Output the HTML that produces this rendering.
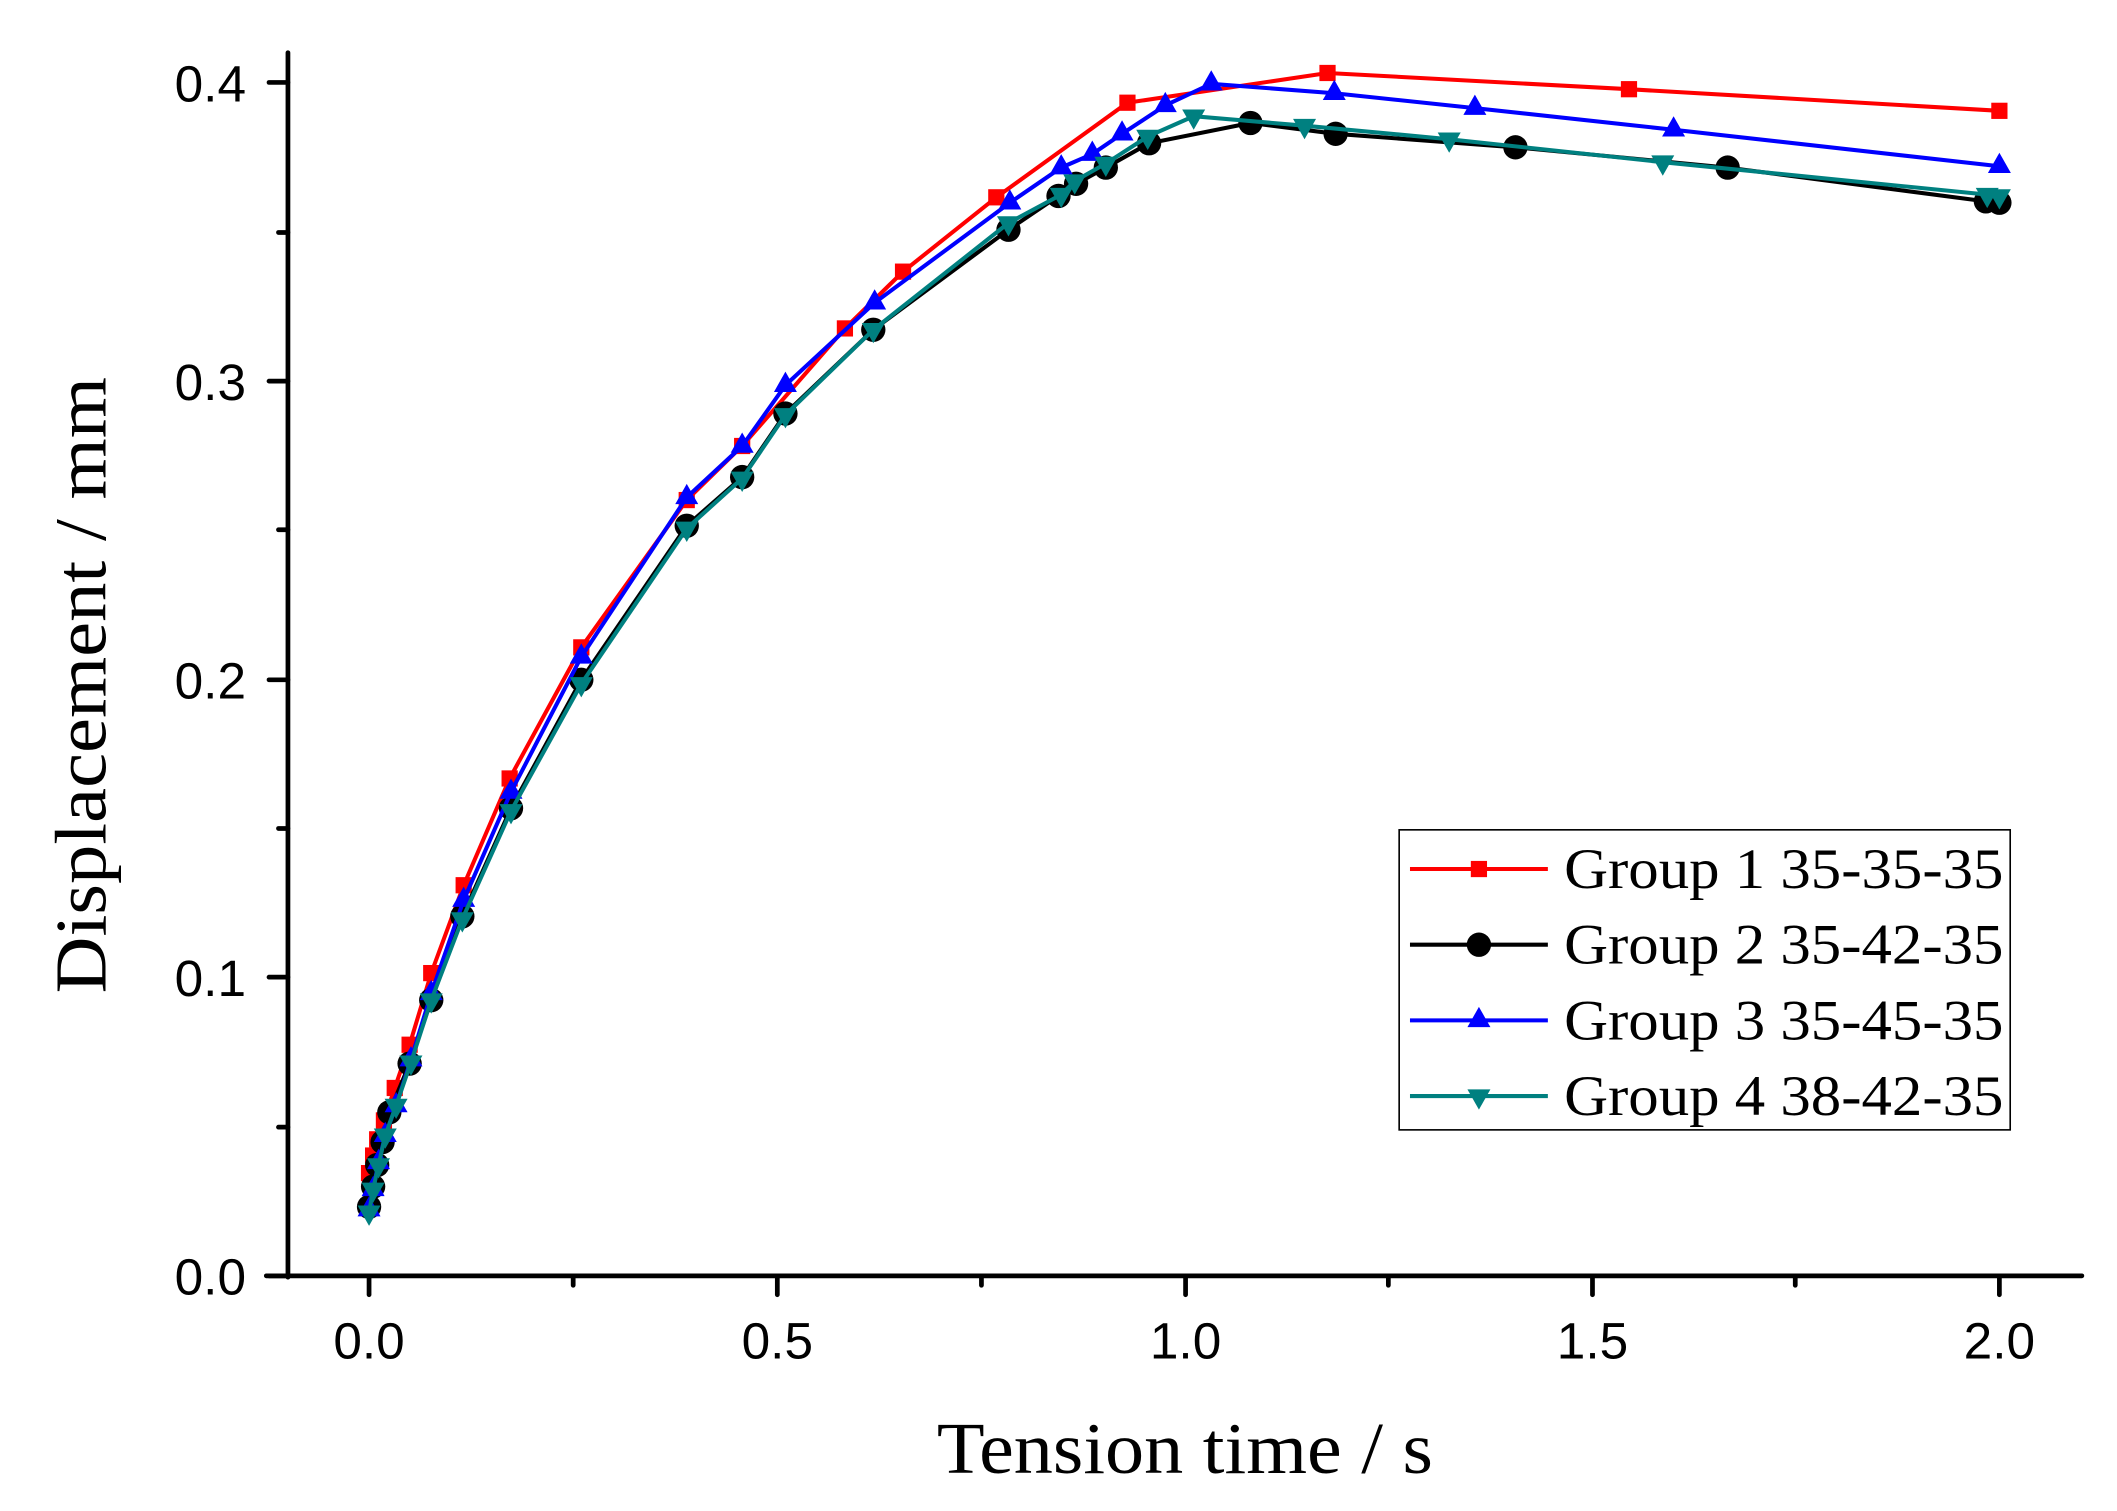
<!DOCTYPE html>
<html><head><meta charset="utf-8"><style>html,body{margin:0;padding:0;background:#fff;}svg{display:block;}</style></head>
<body>
<svg width="2117" height="1511" viewBox="0 0 1566 1118" preserveAspectRatio="none" xmlns="http://www.w3.org/2000/svg">
<defs>
<rect id="sq" x="-6" y="-6" width="12" height="12" fill="#ff0000"/>
<circle id="ci" r="9" fill="#000"/>
<polygon id="tu" points="0,-10 8.5,5 -8.5,5" fill="#0000ff"/>
<polygon id="td" points="0,10 8.5,-5 -8.5,-5" fill="#008080"/>
</defs>
<rect width="1566" height="1118" fill="#fff"/>
<g stroke="#000" stroke-width="3.5" stroke-linecap="round">
<line x1="213" y1="39" x2="213" y2="945"/>
<line x1="197" y1="944" x2="1540" y2="944"/>
<line x1="199" y1="944" x2="213" y2="944"/><line x1="199" y1="723" x2="213" y2="723"/><line x1="199" y1="503" x2="213" y2="503"/><line x1="199" y1="282" x2="213" y2="282"/><line x1="199" y1="61" x2="213" y2="61"/>
<line x1="206" y1="834" x2="213" y2="834"/><line x1="206" y1="613" x2="213" y2="613"/><line x1="206" y1="392" x2="213" y2="392"/><line x1="206" y1="172" x2="213" y2="172"/>
<line x1="273" y1="944" x2="273" y2="958"/><line x1="575" y1="944" x2="575" y2="958"/><line x1="877" y1="944" x2="877" y2="958"/><line x1="1178" y1="944" x2="1178" y2="958"/><line x1="1479" y1="944" x2="1479" y2="958"/>
<line x1="424" y1="944" x2="424" y2="951"/><line x1="726" y1="944" x2="726" y2="951"/><line x1="1027" y1="944" x2="1027" y2="951"/><line x1="1328" y1="944" x2="1328" y2="951"/>
</g>
<g font-family="Liberation Sans, Arial, sans-serif" font-size="38" fill="#000">
<g text-anchor="end">
<text x="182" y="958">0.0</text><text x="182" y="737">0.1</text><text x="182" y="517">0.2</text><text x="182" y="296">0.3</text><text x="182" y="75">0.4</text>
</g>
<g text-anchor="middle">
<text x="273" y="1005">0.0</text><text x="575" y="1005">0.5</text><text x="877" y="1005">1.0</text><text x="1178" y="1005">1.5</text><text x="1479" y="1005">2.0</text>
</g>
</g>
<g font-family="Liberation Serif, 'Times New Roman', serif" font-size="54" fill="#000">
<text x="693" y="1090" textLength="367" lengthAdjust="spacingAndGlyphs">Tension time / s</text>
<text transform="translate(78,735) rotate(-90)" x="0" y="0" textLength="456" lengthAdjust="spacingAndGlyphs">Displacement / mm</text>
</g>
<g>
<polyline fill="none" stroke="#ff0000" stroke-width="3" points="273,868 276,855 279,843 284,829 292,805 303,773 319,720 343,655 377,576 430,479 508,370 549,330 625,243 668,201 737,146 834,76 982,54 1205,66 1479,82"/>
<g><use href="#sq" x="273" y="868"/><use href="#sq" x="276" y="855"/><use href="#sq" x="279" y="843"/><use href="#sq" x="284" y="829"/><use href="#sq" x="292" y="805"/><use href="#sq" x="303" y="773"/><use href="#sq" x="319" y="720"/><use href="#sq" x="343" y="655"/><use href="#sq" x="377" y="576"/><use href="#sq" x="430" y="479"/><use href="#sq" x="508" y="370"/><use href="#sq" x="549" y="330"/><use href="#sq" x="625" y="243"/><use href="#sq" x="668" y="201"/><use href="#sq" x="737" y="146"/><use href="#sq" x="834" y="76"/><use href="#sq" x="982" y="54"/><use href="#sq" x="1205" y="66"/><use href="#sq" x="1479" y="82"/></g>
</g>
<g>
<polyline fill="none" stroke="#000" stroke-width="3" points="273,893 276,878 279,862 283,845 288,823 303,787 319,740 342,678 378,598 430,503 508,389 549,353 581,306 646,244 746,170 783,145 796,136 818,124 850,106 925,91 988,99 1121,109 1278,124 1469,149 1479,150"/>
<g><use href="#ci" x="273" y="893"/><use href="#ci" x="276" y="878"/><use href="#ci" x="279" y="862"/><use href="#ci" x="283" y="845"/><use href="#ci" x="288" y="823"/><use href="#ci" x="303" y="787"/><use href="#ci" x="319" y="740"/><use href="#ci" x="342" y="678"/><use href="#ci" x="378" y="598"/><use href="#ci" x="430" y="503"/><use href="#ci" x="508" y="389"/><use href="#ci" x="549" y="353"/><use href="#ci" x="581" y="306"/><use href="#ci" x="646" y="244"/><use href="#ci" x="746" y="170"/><use href="#ci" x="783" y="145"/><use href="#ci" x="796" y="136"/><use href="#ci" x="818" y="124"/><use href="#ci" x="850" y="106"/><use href="#ci" x="925" y="91"/><use href="#ci" x="988" y="99"/><use href="#ci" x="1121" y="109"/><use href="#ci" x="1278" y="124"/><use href="#ci" x="1469" y="149"/><use href="#ci" x="1479" y="150"/></g>
</g>
<g>
<polyline fill="none" stroke="#0000ff" stroke-width="3" points="273,895 276,880 280,860 285,840 293,818 304,784 319,735 343,666 378,586 430,486 508,368 549,330 581,285 647,224 747,150 785,124 808,114 830,99 862,78 896,62 987,69 1091,80 1238,96 1479,123"/>
<g><use href="#tu" x="273" y="895"/><use href="#tu" x="276" y="880"/><use href="#tu" x="280" y="860"/><use href="#tu" x="285" y="840"/><use href="#tu" x="293" y="818"/><use href="#tu" x="304" y="784"/><use href="#tu" x="319" y="735"/><use href="#tu" x="343" y="666"/><use href="#tu" x="378" y="586"/><use href="#tu" x="430" y="486"/><use href="#tu" x="508" y="368"/><use href="#tu" x="549" y="330"/><use href="#tu" x="581" y="285"/><use href="#tu" x="647" y="224"/><use href="#tu" x="747" y="150"/><use href="#tu" x="785" y="124"/><use href="#tu" x="808" y="114"/><use href="#tu" x="830" y="99"/><use href="#tu" x="862" y="78"/><use href="#tu" x="896" y="62"/><use href="#tu" x="987" y="69"/><use href="#tu" x="1091" y="80"/><use href="#tu" x="1238" y="96"/><use href="#tu" x="1479" y="123"/></g>
</g>
<g>
<polyline fill="none" stroke="#008080" stroke-width="3" points="273,897 276,880 280,862 285,840 293,818 304,786 319,740 342,680 378,600 430,506 508,391 549,354 581,307 646,244 746,165 785,144 795,134 818,121 849,101 883,86 965,93 1072,103 1230,120 1470,144 1479,145"/>
<g><use href="#td" x="273" y="897"/><use href="#td" x="276" y="880"/><use href="#td" x="280" y="862"/><use href="#td" x="285" y="840"/><use href="#td" x="293" y="818"/><use href="#td" x="304" y="786"/><use href="#td" x="319" y="740"/><use href="#td" x="342" y="680"/><use href="#td" x="378" y="600"/><use href="#td" x="430" y="506"/><use href="#td" x="508" y="391"/><use href="#td" x="549" y="354"/><use href="#td" x="581" y="307"/><use href="#td" x="646" y="244"/><use href="#td" x="746" y="165"/><use href="#td" x="785" y="144"/><use href="#td" x="795" y="134"/><use href="#td" x="818" y="121"/><use href="#td" x="849" y="101"/><use href="#td" x="883" y="86"/><use href="#td" x="965" y="93"/><use href="#td" x="1072" y="103"/><use href="#td" x="1230" y="120"/><use href="#td" x="1470" y="144"/><use href="#td" x="1479" y="145"/></g>
</g>
<rect x="1035" y="614" width="452" height="222" fill="#fff" stroke="#000" stroke-width="1.2"/>
<line x1="1043" y1="643" x2="1145" y2="643" stroke="#ff0000" stroke-width="3"/><use href="#sq" x="1094" y="643"/>
<line x1="1043" y1="699" x2="1145" y2="699" stroke="#000" stroke-width="3"/><use href="#ci" x="1094" y="699"/>
<line x1="1043" y1="755" x2="1145" y2="755" stroke="#0000ff" stroke-width="3"/><use href="#tu" x="1094" y="755"/>
<line x1="1043" y1="811" x2="1145" y2="811" stroke="#008080" stroke-width="3"/><use href="#td" x="1094" y="811"/>
<g font-family="Liberation Serif, 'Times New Roman', serif" font-size="42" fill="#000">
<text x="1157" y="657" textLength="325" lengthAdjust="spacingAndGlyphs">Group 1 35-35-35</text>
<text x="1157" y="713" textLength="325" lengthAdjust="spacingAndGlyphs">Group 2 35-42-35</text>
<text x="1157" y="769" textLength="325" lengthAdjust="spacingAndGlyphs">Group 3 35-45-35</text>
<text x="1157" y="825" textLength="325" lengthAdjust="spacingAndGlyphs">Group 4 38-42-35</text>
</g>
</svg>
</body></html>
